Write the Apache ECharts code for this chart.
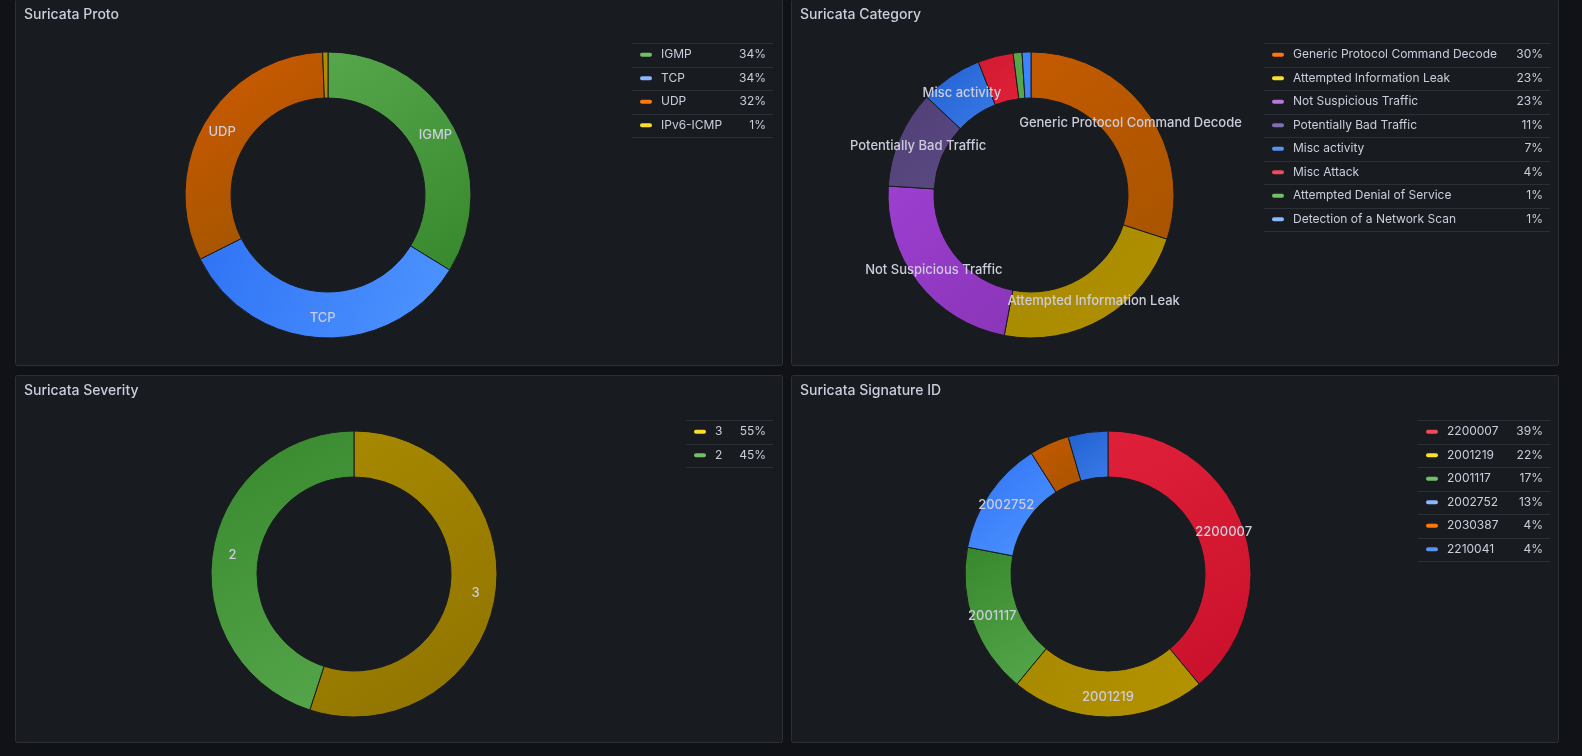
<!DOCTYPE html>
<html>
<head>
<meta charset="utf-8">
<title>Suricata</title>
<script src="https://cdn.jsdelivr.net/npm/echarts@6/dist/echarts.min.js"></script>
<style>
  html, body { margin: 0; padding: 0; background: #111217; overflow: hidden; }
  #main { width: 1582px; height: 756px; }
</style>
</head>
<body>
<div id="main"></div>
<script type="text/javascript">
var myChart = echarts.init(document.getElementById('main'));

// 面板数据
var panels = [
  {
    title: 'Suricata Proto', box: [15, -1, 767, 366], center: [328, 195],
    legend: { x: 632, y: 43, w: 141 },
    data: [
      { name: 'IGMP', value: 34, pct: '34%', lc: '#73bf69', c: ['#56a64b', '#37872d'] },
      { name: 'TCP', value: 34, pct: '34%', lc: '#8ab8ff', c: ['#2f73f5', '#4f95ff'] },
      { name: 'UDP', value: 32, pct: '32%', lc: '#ff780a', c: ['#d05a00', '#9a5400'] },
      { name: 'IPv6-ICMP', value: 0.6, pct: '1%', lc: '#fade2a', c: ['#b08c00', '#b08c00'], nolabel: true }
    ]
  },
  {
    title: 'Suricata Category', box: [791, -1, 767, 366], center: [1031, 195],
    legend: { x: 1264, y: 43, w: 286 },
    data: [
      { name: 'Generic Protocol Command Decode', value: 30, pct: '30%', lc: '#ff780a', c: ['#c45a00', '#a85400'] },
      { name: 'Attempted Information Leak', value: 23, pct: '23%', lc: '#fade2a', c: ['#a88a00', '#b09000'] },
      { name: 'Not Suspicious Traffic', value: 23, pct: '23%', lc: '#b877d9', c: ['#9c3fd0', '#8a35b8'] },
      { name: 'Potentially Bad Traffic', value: 11, pct: '11%', lc: '#806eb7', c: ['#4f3f75', '#5a4a82'] },
      { name: 'Misc activity', value: 7, pct: '7%', lc: '#5794f2', c: ['#1f60d0', '#3b7ae8'] },
      { name: 'Misc Attack', value: 4, pct: '4%', lc: '#f2495c', c: ['#d01a30', '#e02038'], nolabel: true },
      { name: 'Attempted Denial of Service', value: 1, pct: '1%', lc: '#73bf69', c: ['#56a64b', '#56a64b'], nolabel: true },
      { name: 'Detection of a Network Scan', value: 1, pct: '1%', lc: '#8ab8ff', c: ['#3d85ff', '#3d85ff'], nolabel: true }
    ]
  },
  {
    title: 'Suricata Severity', box: [15, 375, 767, 367], center: [354, 574],
    legend: { x: 686, y: 420, w: 87 },
    data: [
      { name: '3', value: 55, pct: '55%', lc: '#fade2a', c: ['#a88a00', '#8f7200'] },
      { name: '2', value: 45, pct: '45%', lc: '#73bf69', c: ['#37872d', '#56a64b'] }
    ]
  },
  {
    title: 'Suricata Signature ID', box: [791, 375, 767, 367], center: [1108, 574],
    legend: { x: 1418, y: 420, w: 132 },
    data: [
      { name: '2200007', value: 39, pct: '39%', lc: '#f2495c', c: ['#e0203a', '#c8102a'] },
      { name: '2001219', value: 22, pct: '22%', lc: '#fade2a', c: ['#a88a00', '#b49200'] },
      { name: '2001117', value: 17, pct: '17%', lc: '#73bf69', c: ['#37872d', '#56a64b'] },
      { name: '2002752', value: 13, pct: '13%', lc: '#8ab8ff', c: ['#2f73f5', '#4f95ff'] },
      { name: '2030387', value: 4.5, pct: '4%', lc: '#ff780a', c: ['#c45a00', '#a85400'], nolabel: true },
      { name: '2210041', value: 4.5, pct: '4%', lc: '#5794f2', c: ['#1f60d0', '#3b7ae8'], nolabel: true }
    ]
  }
];

var graphics = [];
var series = [];
var rowH = 23.5;

panels.forEach(function (p) {
  graphics.push({
    type: 'rect', z: 0,
    shape: { x: p.box[0] + 0.5, y: p.box[1] + 0.5, width: p.box[2], height: p.box[3], r: 2 },
    style: { fill: '#181b1f', stroke: '#2c2f35', lineWidth: 1 }
  });
  graphics.push({
    type: 'text', z: 1, left: p.box[0] + 9, top: p.box[1] + 9,
    style: { text: p.title, fill: '#ccccdc', font: '500 14px Inter', }
  });
  var L = p.legend;
  graphics.push({ type: 'line', z: 1, shape: { x1: L.x, y1: L.y + 0.5, x2: L.x + L.w, y2: L.y + 0.5 }, style: { stroke: '#2c2f35', lineWidth: 1 } });
  p.data.forEach(function (d, i) {
    var cy = L.y + rowH * i + rowH / 2;
    graphics.push({ type: 'rect', z: 1, shape: { x: L.x + 8, y: cy - 2, width: 12, height: 4, r: 2 }, style: { fill: d.lc } });
    graphics.push({ type: 'text', z: 1, x: L.x + 29, y: cy, style: { text: d.name, fill: '#ccccdc', font: '12px Inter', verticalAlign: 'middle' } });
    graphics.push({ type: 'text', z: 1, x: L.x + L.w - 7, y: cy, style: { text: d.pct, fill: '#ccccdc', font: '12px Inter', align: 'right', verticalAlign: 'middle' } });
    var ly = Math.round(L.y + rowH * (i + 1)) + 0.5;
    graphics.push({ type: 'line', z: 1, shape: { x1: L.x, y1: ly, x2: L.x + L.w, y2: ly }, style: { stroke: '#2c2f35', lineWidth: 1 } });
  });

  series.push({
    type: 'pie',
    center: p.center,
    radius: [97, 143],
    startAngle: 90,
    clockwise: true,
    avoidLabelOverlap: false,
    silent: true,
    animation: false,
    z: 2,
    itemStyle: { borderColor: '#181b1f', borderWidth: 1 },
    label: { position: 'inside', color: '#ccccdc', fontSize: 13, fontWeight: 500, fontFamily: 'Inter', textBorderWidth: 0 },
    labelLine: { show: false },
    data: p.data.map(function (d) {
      return {
        name: d.name, value: d.value,
        label: { show: !d.nolabel },
        itemStyle: {
          color: new echarts.graphic.LinearGradient(0, 0, 1, 1, [
            { offset: 0, color: d.c[0] }, { offset: 1, color: d.c[1] }
          ])
        }
      };
    })
  });
});

myChart.setOption({
  backgroundColor: '#111217',
  graphic: graphics,
  series: series
});
</script>
</body>
</html>
